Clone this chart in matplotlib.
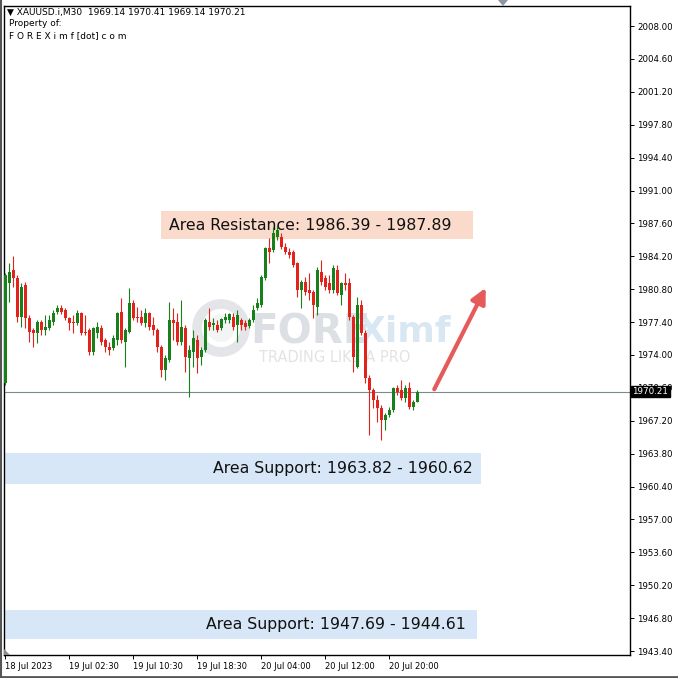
import numpy as np
import matplotlib.pyplot as plt
from matplotlib.patches import Rectangle, Circle, Polygon
from matplotlib.lines import Line2D
import matplotlib.transforms as mtransforms

# XAUUSD M30 candles, 18 Jul 18:30 -> 20 Jul 23:30
opens = [1971.10, 1981.44, 1982.78, 1981.96, 1977.93, 1981.23, 1977.82, 1976.58, 1976.27, 1977.41,
         1976.58, 1976.79, 1977.41, 1978.44, 1978.86, 1978.65, 1977.82, 1977.31, 1977.31, 1978.34,
         1976.27, 1976.58, 1974.31, 1976.27, 1976.79, 1975.55, 1974.82, 1974.72, 1975.55, 1978.44,
         1975.34, 1976.37, 1979.37, 1977.82, 1977.93, 1977.31, 1978.34, 1977.10, 1976.58, 1974.82,
         1972.45, 1973.48, 1977.62, 1977.41, 1975.34, 1976.79, 1973.69, 1974.31, 1975.55, 1973.79,
         1974.51, 1977.41, 1977.10, 1977.10, 1976.79, 1977.62, 1977.62, 1977.93, 1977.10, 1977.62,
         1977.31, 1977.00, 1977.62, 1978.86, 1979.17, 1981.96, 1985.06, 1984.85, 1986.19, 1986.19,
         1985.16, 1984.64, 1984.64, 1983.51, 1980.72, 1981.54, 1980.72, 1980.51, 1978.96, 1982.58,
         1981.96, 1981.44, 1980.72, 1982.78, 1980.20, 1981.44, 1981.44, 1977.93, 1972.76, 1979.17,
         1976.27, 1971.62, 1970.38, 1969.35, 1968.52, 1967.28, 1967.80, 1968.31, 1970.59, 1970.38,
         1969.55, 1970.59, 1968.62, 1969.14]
highs = [1982.47, 1983.51, 1984.23, 1982.27, 1981.44, 1981.54, 1978.13, 1976.79, 1977.62, 1977.62,
         1978.13, 1978.13, 1978.65, 1979.17, 1979.17, 1978.86, 1977.93, 1978.13, 1978.65, 1978.44,
         1978.13, 1976.79, 1976.89, 1977.41, 1977.10, 1975.75, 1975.34, 1976.06, 1978.44, 1979.89,
         1976.79, 1980.92, 1979.68, 1978.96, 1978.65, 1978.86, 1978.44, 1977.93, 1976.79, 1975.03,
         1973.96, 1979.48, 1978.86, 1978.34, 1979.68, 1977.10, 1975.03, 1976.58, 1976.06, 1974.82,
         1977.82, 1978.86, 1977.82, 1977.62, 1977.82, 1978.34, 1978.34, 1978.34, 1978.65, 1977.82,
         1977.62, 1977.82, 1979.17, 1979.89, 1982.27, 1985.16, 1986.09, 1987.23, 1987.43, 1986.61,
         1985.57, 1985.06, 1984.85, 1983.61, 1981.75, 1982.06, 1982.47, 1980.72, 1983.09, 1983.82,
         1982.27, 1982.27, 1983.30, 1983.30, 1981.54, 1982.47, 1981.96, 1978.13, 1979.99, 1979.68,
         1976.58, 1971.93, 1970.59, 1969.86, 1968.83, 1968.00, 1968.62, 1970.69, 1970.90, 1971.41,
         1970.90, 1971.21, 1969.35, 1970.41]
lows = [1970.90, 1979.48, 1981.03, 1977.41, 1976.89, 1976.79, 1975.34, 1974.82, 1975.24, 1976.06,
        1976.06, 1976.58, 1977.10, 1978.24, 1978.24, 1977.62, 1976.58, 1976.27, 1977.10, 1976.06,
        1976.06, 1974.00, 1974.00, 1975.75, 1975.03, 1974.31, 1974.00, 1974.51, 1975.03, 1975.24,
        1972.76, 1976.27, 1977.62, 1977.41, 1977.10, 1976.89, 1976.58, 1976.06, 1974.31, 1971.72,
        1971.41, 1973.27, 1975.55, 1975.03, 1975.03, 1972.24, 1969.66, 1972.76, 1972.14, 1972.96,
        1974.31, 1976.58, 1976.58, 1976.37, 1976.58, 1977.31, 1977.31, 1976.58, 1975.34, 1976.58,
        1976.58, 1976.79, 1977.41, 1978.65, 1978.96, 1981.75, 1983.51, 1984.64, 1985.88, 1984.95,
        1984.43, 1984.02, 1983.09, 1979.99, 1978.86, 1980.20, 1979.68, 1977.82, 1978.13, 1981.23,
        1980.72, 1980.41, 1980.41, 1980.20, 1979.17, 1980.72, 1977.62, 1972.24, 1972.65, 1976.06,
        1971.10, 1965.73, 1968.52, 1967.07, 1965.21, 1966.25, 1967.59, 1968.10, 1969.86, 1969.35,
        1969.14, 1968.41, 1968.31, 1969.14]
closes = [1982.27, 1982.58, 1981.96, 1977.93, 1981.03, 1977.82, 1976.37, 1976.27, 1977.41, 1976.58,
          1976.89, 1977.62, 1978.34, 1978.86, 1978.44, 1977.82, 1977.31, 1977.25, 1978.34, 1976.27,
          1976.17, 1974.31, 1976.79, 1976.89, 1975.34, 1974.82, 1974.51, 1975.75, 1978.34, 1975.55,
          1976.58, 1979.37, 1977.82, 1977.77, 1977.31, 1978.34, 1976.89, 1976.58, 1974.82, 1972.45,
          1973.69, 1977.62, 1977.31, 1975.34, 1976.89, 1973.79, 1974.51, 1975.75, 1973.69, 1974.51,
          1977.62, 1976.89, 1977.31, 1976.58, 1977.72, 1977.93, 1978.24, 1976.89, 1978.13, 1977.10,
          1976.89, 1977.62, 1978.65, 1979.37, 1982.06, 1985.06, 1984.64, 1986.61, 1986.92, 1985.16,
          1984.64, 1984.33, 1983.30, 1980.72, 1981.54, 1980.51, 1980.41, 1979.17, 1982.78, 1981.54,
          1981.03, 1980.72, 1982.99, 1980.41, 1981.44, 1981.23, 1977.93, 1973.79, 1979.17, 1976.27,
          1971.62, 1970.38, 1969.35, 1968.52, 1967.28, 1967.80, 1968.31, 1970.59, 1970.17, 1969.55,
          1970.59, 1968.62, 1969.14, 1970.21]

x_tick_idx = [0, 16, 32, 48, 64, 80, 96]
x_tick_labels = ['18 Jul 2023', '19 Jul 02:30', '19 Jul 10:30', '19 Jul 18:30',
                 '20 Jul 04:00', '20 Jul 12:00', '20 Jul 20:00']
y_ticks = [1943.40, 1946.80, 1950.20, 1953.60, 1957.00, 1960.40, 1963.80, 1967.20, 1970.60,
           1974.00, 1977.40, 1980.80, 1984.20, 1987.60, 1991.00, 1994.40, 1997.80, 2001.20,
           2004.60, 2008.00]

last_price = 1970.21
resistance = (1986.39, 1987.89)
support1 = (1963.82, 1960.62)
support2 = (1947.69, 1944.61)
resistance_box = (1985.98, 1988.88)   # drawn box edges

GREEN = '#17801a'
RED = '#e3231b'

fig = plt.figure(figsize=(6.78, 6.78), dpi=100)
W = H = 678.0
ax = fig.add_axes([4 / W, 23 / H, 626 / W, 649 / H])
ax.set_xlim(-0.25, 156.25)
ax.set_ylim(1942.99, 2010.07)

# candles
o = np.array(opens); c = np.array(closes)
hi = np.array(highs); lo = np.array(lows)
x = np.arange(len(o))
col = np.where(c > o, GREEN, np.where(c < o, RED, 'black'))
ax.vlines(x, lo, hi, colors=col, lw=0.8, zorder=3)
body = np.where(np.abs(c - o) < 0.12, 0.12, c - o)
ax.bar(x, body, bottom=o, width=0.75, color=col, lw=0, zorder=4)

# current price line
ax.axhline(last_price, color='#7d8a8a', lw=0.8, zorder=2)
tr = mtransforms.blended_transform_factory(ax.transAxes, ax.transData)
ax.text(1.004, last_price, '1970.21', transform=tr, color='white', fontsize=6.3,
        family='DejaVu Sans', va='center', ha='left', clip_on=False, zorder=20,
        bbox=dict(boxstyle='square,pad=0.15', fc='black', ec='black'))

# zones
ax.add_patch(Rectangle((39, resistance_box[0]), 78, resistance_box[1] - resistance_box[0],
                       fc='#fadbcb', ec='none', zorder=1))
ax.text(41, sum(resistance_box) / 2, 'Area Resistance: %.2f - %.2f' % resistance,
        fontsize=11.3, va='center', ha='left', color='#111111', zorder=1.5)
ax.add_patch(Rectangle((-0.25, support1[1]), 119.25, support1[0] - support1[1],
                       fc='#d7e7f7', ec='none', zorder=1))
ax.text(117, sum(support1) / 2, 'Area Support: %.2f - %.2f' % support1,
        fontsize=11.3, va='center', ha='right', color='#111111', zorder=1.5)
ax.add_patch(Rectangle((-0.25, support2[1]), 118.25, support2[0] - support2[1],
                       fc='#d7e7f7', ec='none', zorder=1))
ax.text(115.3, sum(support2) / 2, 'Area Support: %.2f - %.2f' % support2,
        fontsize=11.3, va='center', ha='right', color='#111111', zorder=1.5)

# bullish arrow
ax.annotate('', xy=(120.5, 1981.2), xytext=(107, 1970.2),
            arrowprops=dict(arrowstyle='-|>,head_length=0.9,head_width=0.45',
                            color='#e65a5c', lw=3), zorder=6)

# watermark, behind the candles
ft = fig.transFigure
ax.add_patch(Circle((221 / W, 1 - 328 / H), 24 / W, transform=ft,
                    fc='none', ec='#dcdfe4', lw=7, alpha=0.8, zorder=0.6))
ax.add_patch(Circle((221 / W, 1 - 328 / H), 14 / W, transform=ft,
                    fc='#eceef1', ec='none', alpha=0.6, zorder=0.6))
ax.text(250 / W, 1 - 332 / H, 'FORE', transform=ft, fontsize=29, fontweight='bold',
        color='#d4d7de', alpha=0.8, va='center', ha='left', zorder=0.7)
ax.text(357 / W, 1 - 332 / H, 'Ximf', transform=ft, fontsize=26, fontweight='bold',
        color='#d0e2f1', alpha=0.8, va='center', ha='left', zorder=0.7)
ax.text(259 / W, 1 - 358 / H, 'TRADING LIKE A PRO', transform=ft, fontsize=10.5,
        color='#dedede', alpha=0.85, va='center', ha='left', zorder=0.7)

# axes styling
ax.yaxis.tick_right()
ax.set_yticks(y_ticks)
ax.set_yticklabels(['%.2f' % v for v in y_ticks])
ax.set_xticks(x_tick_idx)
ax.set_xticklabels(x_tick_labels, ha='left')
ax.tick_params(axis='y', direction='out', length=3, width=0.7, labelsize=6.2, pad=2,
               colors='black')
ax.tick_params(axis='x', direction='out', length=3, width=0.7, labelsize=6.0, pad=2)
for s in ax.spines.values():
    s.set_linewidth(1.0)
    s.set_color('black')

# header
fig.text(7 / W, 1 - 12 / H, '\u25bc XAUUSD.i,M30  1969.14 1970.41 1969.14 1970.21',
         fontsize=6.5, va='center', ha='left')
fig.text(9 / W, 1 - 24 / H, 'Property of:', fontsize=6.5, va='center', ha='left')
fig.text(9 / W, 1 - 36 / H, 'F O R E X i m f [dot] c o m', fontsize=6.5, va='center', ha='left')

# small markers and window border
fig.add_artist(Polygon([[498 / W, 1.0], [508 / W, 1.0], [503 / W, 1 - 6 / H]],
                       closed=True, transform=ft, fc='#8c96a0', ec='none'))
fig.add_artist(Polygon([[4 / W, 23 / H], [10 / W, 23 / H], [4 / W, 29 / H]],
                       closed=True, transform=ft, fc='#8c8c8c', ec='none'))
fig.add_artist(Line2D([0.5 / W, 0.5 / W], [0, 1], transform=ft, color='#555555', lw=1.5))
fig.add_artist(Line2D([0, 1], [1 / H, 1 / H], transform=ft, color='#555555', lw=2))

fig.savefig('out.png', dpi=100)
